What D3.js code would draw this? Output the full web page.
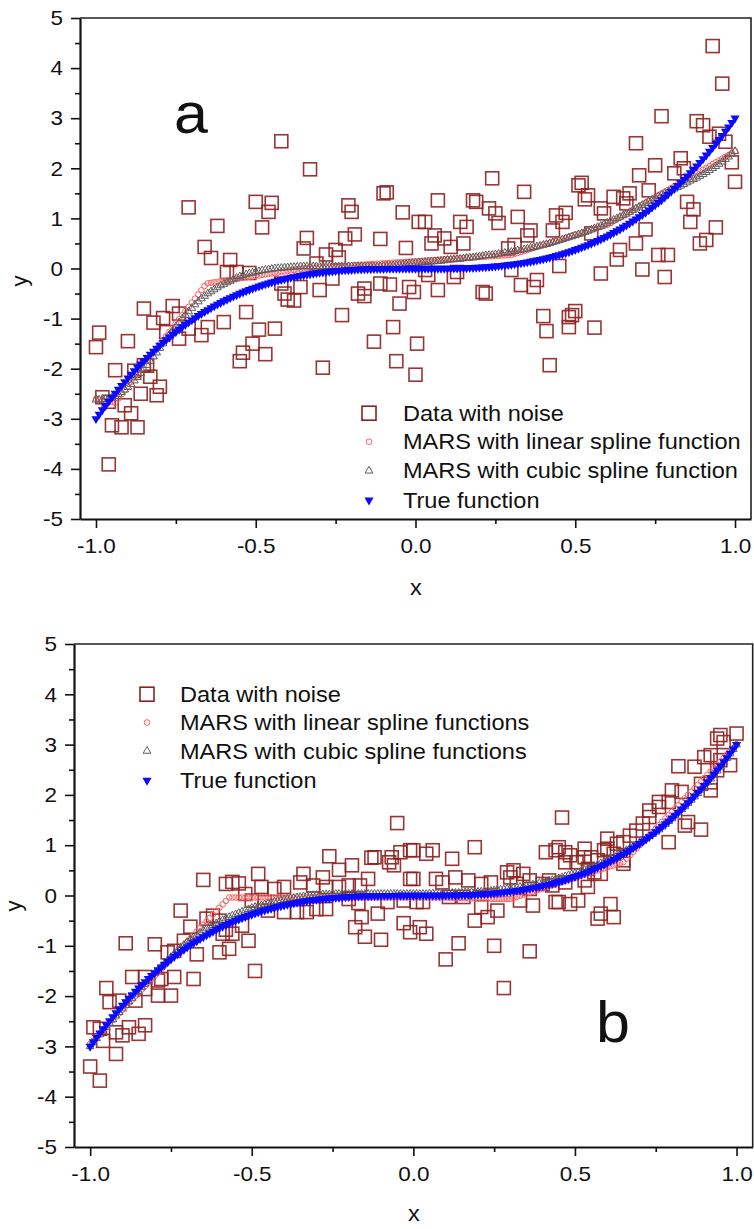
<!DOCTYPE html>
<html><head><meta charset="utf-8">
<script src="https://cdn.jsdelivr.net/npm/d3@7"></script>
<style>
body{margin:0;background:#fff}
svg{display:block}
text{font-family:"Liberation Sans",Arial,sans-serif;fill:#111}
</style>
</head><body>
<svg id="c" width="754" height="1229"></svg>
<script>
// ---------- data ----------
const xGrid = [
-1,-0.99,-0.98,-0.97,-0.96,-0.95,-0.94,-0.93,-0.92,-0.91,
-0.9,-0.89,-0.88,-0.87,-0.86,-0.85,-0.84,-0.83,-0.82,-0.81,
-0.8,-0.79,-0.78,-0.77,-0.76,-0.75,-0.74,-0.73,-0.72,-0.71,
-0.7,-0.69,-0.68,-0.67,-0.66,-0.65,-0.64,-0.63,-0.62,-0.61,
-0.6,-0.59,-0.58,-0.57,-0.56,-0.55,-0.54,-0.53,-0.52,-0.51,
-0.5,-0.49,-0.48,-0.47,-0.46,-0.45,-0.44,-0.43,-0.42,-0.41,
-0.4,-0.39,-0.38,-0.37,-0.36,-0.35,-0.34,-0.33,-0.32,-0.31,
-0.3,-0.29,-0.28,-0.27,-0.26,-0.25,-0.24,-0.23,-0.22,-0.21,
-0.2,-0.19,-0.18,-0.17,-0.16,-0.15,-0.14,-0.13,-0.12,-0.11,
-0.1,-0.09,-0.08,-0.07,-0.06,-0.05,-0.04,-0.03,-0.02,-0.01,
0,
0.01,0.02,0.03,0.04,0.05,0.06,0.07,0.08,0.09,0.1,
0.11,0.12,0.13,0.14,0.15,0.16,0.17,0.18,0.19,0.2,
0.21,0.22,0.23,0.24,0.25,0.26,0.27,0.28,0.29,0.3,
0.31,0.32,0.33,0.34,0.35,0.36,0.37,0.38,0.39,0.4,
0.41,0.42,0.43,0.44,0.45,0.46,0.47,0.48,0.49,0.5,
0.51,0.52,0.53,0.54,0.55,0.56,0.57,0.58,0.59,0.6,
0.61,0.62,0.63,0.64,0.65,0.66,0.67,0.68,0.69,0.7,
0.71,0.72,0.73,0.74,0.75,0.76,0.77,0.78,0.79,0.8,
0.81,0.82,0.83,0.84,0.85,0.86,0.87,0.88,0.89,0.9,
0.91,0.92,0.93,0.94,0.95,0.96,0.97,0.98,0.99,1];

const trueY = [
-3,-2.911,-2.824,-2.738,-2.654,-2.572,-2.492,-2.413,-2.336,-2.261,
-2.187,-2.115,-2.044,-1.976,-1.908,-1.842,-1.778,-1.715,-1.654,-1.594,
-1.536,-1.479,-1.424,-1.37,-1.317,-1.266,-1.216,-1.167,-1.12,-1.074,
-1.029,-0.986,-0.943,-0.902,-0.862,-0.824,-0.786,-0.75,-0.715,-0.681,
-0.648,-0.616,-0.585,-0.556,-0.527,-0.499,-0.472,-0.447,-0.422,-0.398,
-0.375,-0.353,-0.332,-0.311,-0.292,-0.273,-0.256,-0.239,-0.222,-0.207,
-0.192,-0.178,-0.165,-0.152,-0.14,-0.129,-0.118,-0.108,-0.098,-0.089,
-0.081,-0.073,-0.066,-0.059,-0.053,-0.047,-0.041,-0.037,-0.032,-0.028,
-0.024,-0.021,-0.017,-0.015,-0.012,-0.01,-0.008,-0.007,-0.005,-0.004,
-0.003,-0.002,-0.002,-0.001,-0.001,0,0,0,0,0,
0,
0,0,0,0,0,0.001,0.001,0.002,0.002,0.003,
0.004,0.005,0.007,0.008,0.01,0.012,0.015,0.017,0.021,0.024,
0.028,0.032,0.037,0.041,0.047,0.053,0.059,0.066,0.073,0.081,
0.089,0.098,0.108,0.118,0.129,0.14,0.152,0.165,0.178,0.192,
0.207,0.222,0.239,0.256,0.273,0.292,0.311,0.332,0.353,0.375,
0.398,0.422,0.447,0.472,0.499,0.527,0.556,0.585,0.616,0.648,
0.681,0.715,0.75,0.786,0.824,0.862,0.902,0.943,0.986,1.029,
1.074,1.12,1.167,1.216,1.266,1.317,1.37,1.424,1.479,1.536,
1.594,1.654,1.715,1.778,1.842,1.908,1.976,2.044,2.115,2.187,
2.261,2.336,2.413,2.492,2.572,2.654,2.738,2.824,2.911,3];

const linA = [
-2.6,-2.613,-2.627,-2.64,-2.653,-2.667,-2.68,-2.597,-2.514,-2.43,
-2.347,-2.264,-2.181,-2.097,-2.014,-1.931,-1.848,-1.765,-1.681,-1.598,
-1.515,-1.432,-1.349,-1.265,-1.182,-1.099,-1.016,-0.933,-0.849,-0.766,
-0.683,-0.6,-0.516,-0.433,-0.35,-0.296,-0.286,-0.276,-0.266,-0.256,
-0.247,-0.237,-0.227,-0.217,-0.207,-0.197,-0.187,-0.178,-0.168,-0.158,
-0.148,-0.138,-0.128,-0.118,-0.109,-0.099,-0.089,-0.079,-0.069,-0.059,
-0.049,-0.039,-0.03,-0.02,-0.01,0,0.004,0.008,0.012,0.017,
0.021,0.025,0.029,0.033,0.037,0.042,0.046,0.05,0.054,0.058,
0.062,0.066,0.071,0.075,0.079,0.083,0.087,0.091,0.095,0.1,
0.104,0.108,0.112,0.116,0.12,0.125,0.129,0.133,0.137,0.141,
0.145,
0.149,0.154,0.158,0.162,0.166,0.17,0.174,0.178,0.183,0.187,
0.191,0.195,0.199,0.203,0.208,0.212,0.216,0.22,0.224,0.228,
0.233,0.237,0.241,0.245,0.249,0.253,0.258,0.262,0.266,0.27,
0.29,0.31,0.33,0.35,0.37,0.39,0.41,0.43,0.45,0.47,
0.49,0.51,0.53,0.55,0.57,0.59,0.61,0.63,0.65,0.67,
0.69,0.71,0.73,0.75,0.77,0.79,0.81,0.83,0.85,0.87,
0.907,0.944,0.98,1.017,1.054,1.091,1.127,1.164,1.201,1.238,
1.274,1.311,1.348,1.385,1.421,1.458,1.495,1.532,1.568,1.605,
1.642,1.679,1.715,1.752,1.789,1.826,1.862,1.899,1.936,1.973,
2.009,2.046,2.083,2.12,2.156,2.193,2.23,2.267,2.303,2.34];

const cubA = [
-2.62,-2.62,-2.62,-2.61,-2.6,-2.58,-2.55,-2.51,-2.47,-2.42,
-2.37,-2.31,-2.24,-2.17,-2.09,-2.01,-1.93,-1.85,-1.76,-1.68,
-1.59,-1.5,-1.41,-1.32,-1.24,-1.16,-1.08,-1,-0.93,-0.86,
-0.79,-0.72,-0.66,-0.6,-0.55,-0.5,-0.46,-0.42,-0.38,-0.34,
-0.31,-0.28,-0.25,-0.22,-0.19,-0.16,-0.14,-0.12,-0.1,-0.085,
-0.07,-0.055,-0.04,-0.03,-0.02,-0.01,0,0.005,0.01,0.015,
0.02,0.025,0.03,0.035,0.04,0.04,0.04,0.04,0.04,0.04,
0.04,0.04,0.04,0.04,0.04,0.04,0.04,0.04,0.04,0.04,
0.04,0.04,0.04,0.04,0.04,0.04,0.04,0.04,0.04,0.04,
0.05,0.055,0.06,0.065,0.07,0.075,0.08,0.09,0.1,0.105,
0.11,
0.115,0.12,0.125,0.13,0.135,0.14,0.145,0.15,0.16,0.17,
0.175,0.18,0.185,0.19,0.2,0.21,0.215,0.22,0.23,0.24,
0.25,0.26,0.265,0.27,0.28,0.29,0.3,0.31,0.32,0.33,
0.345,0.36,0.37,0.38,0.395,0.41,0.425,0.44,0.455,0.47,
0.485,0.5,0.52,0.54,0.56,0.58,0.6,0.62,0.64,0.66,
0.68,0.7,0.725,0.75,0.775,0.8,0.825,0.85,0.88,0.91,
0.94,0.97,1,1.03,1.06,1.09,1.125,1.16,1.195,1.23,
1.265,1.3,1.335,1.37,1.405,1.44,1.47,1.5,1.53,1.56,
1.59,1.62,1.65,1.68,1.715,1.75,1.78,1.81,1.845,1.88,
1.92,1.96,2,2.04,2.085,2.13,2.18,2.23,2.285,2.34];

const linB = [
-2.95,-2.882,-2.815,-2.747,-2.679,-2.612,-2.544,-2.476,-2.409,-2.341,
-2.273,-2.206,-2.138,-2.07,-2.002,-1.935,-1.867,-1.799,-1.732,-1.664,
-1.596,-1.529,-1.461,-1.393,-1.326,-1.258,-1.19,-1.123,-1.055,-0.987,
-0.92,-0.852,-0.784,-0.717,-0.649,-0.581,-0.514,-0.446,-0.378,-0.311,
-0.243,-0.175,-0.108,-0.04,-0.04,-0.04,-0.04,-0.04,-0.04,-0.04,
-0.04,-0.04,-0.04,-0.04,-0.04,-0.04,-0.04,-0.04,-0.04,-0.04,
-0.04,-0.04,-0.04,-0.04,-0.04,-0.04,-0.04,-0.04,-0.04,-0.04,
-0.04,-0.04,-0.04,-0.04,-0.04,-0.04,-0.04,-0.04,-0.04,-0.04,
-0.04,-0.04,-0.04,-0.04,-0.04,-0.04,-0.04,-0.04,-0.04,-0.04,
-0.04,-0.04,-0.04,-0.04,-0.04,-0.04,-0.04,-0.04,-0.04,-0.04,
-0.04,
-0.04,-0.04,-0.04,-0.04,-0.04,-0.04,-0.04,-0.04,-0.04,-0.04,
-0.042,-0.045,-0.047,-0.05,-0.05,-0.05,-0.052,-0.055,-0.057,-0.06,
-0.06,-0.06,-0.062,-0.065,-0.067,-0.07,-0.07,-0.07,-0.07,-0.07,
-0.049,-0.028,-0.007,0.014,0.035,0.056,0.077,0.098,0.119,0.14,
0.161,0.182,0.203,0.224,0.245,0.266,0.287,0.308,0.329,0.35,
0.371,0.392,0.413,0.434,0.455,0.476,0.497,0.518,0.539,0.56,
0.581,0.602,0.623,0.644,0.665,0.732,0.799,0.865,0.932,0.999,
1.065,1.132,1.199,1.265,1.332,1.399,1.466,1.532,1.599,1.666,
1.732,1.799,1.866,1.932,1.999,2.066,2.132,2.199,2.266,2.332,
2.399,2.466,2.532,2.599,2.666,2.732,2.799,2.866,2.932,3];

const cubB = [
-3,-2.92,-2.84,-2.765,-2.69,-2.615,-2.54,-2.465,-2.39,-2.32,
-2.25,-2.18,-2.11,-2.04,-1.97,-1.9,-1.83,-1.76,-1.69,-1.62,
-1.55,-1.485,-1.42,-1.355,-1.29,-1.225,-1.16,-1.1,-1.04,-0.985,
-0.93,-0.88,-0.83,-0.785,-0.74,-0.7,-0.66,-0.625,-0.59,-0.555,
-0.52,-0.49,-0.46,-0.43,-0.4,-0.375,-0.35,-0.325,-0.3,-0.275,
-0.25,-0.23,-0.21,-0.195,-0.18,-0.16,-0.14,-0.125,-0.11,-0.095,
-0.08,-0.07,-0.06,-0.05,-0.04,-0.03,-0.02,-0.01,0,0.005,
0.01,0.015,0.02,0.02,0.02,0.025,0.03,0.03,0.03,0.03,
0.03,0.03,0.03,0.03,0.03,0.03,0.03,0.03,0.03,0.03,
0.03,0.03,0.03,0.03,0.03,0.03,0.03,0.03,0.03,0.03,
0.03,
0.03,0.03,0.03,0.03,0.035,0.04,0.04,0.04,0.04,0.04,
0.045,0.05,0.05,0.05,0.055,0.06,0.06,0.06,0.065,0.07,
0.075,0.08,0.085,0.09,0.1,0.11,0.115,0.12,0.13,0.14,
0.15,0.16,0.17,0.18,0.19,0.2,0.215,0.23,0.245,0.26,
0.275,0.29,0.305,0.32,0.34,0.36,0.38,0.4,0.42,0.44,
0.46,0.48,0.505,0.53,0.555,0.58,0.61,0.64,0.67,0.7,
0.73,0.76,0.795,0.83,0.865,0.9,0.935,0.97,1.01,1.05,
1.09,1.13,1.175,1.22,1.265,1.31,1.365,1.42,1.475,1.53,
1.59,1.65,1.71,1.77,1.835,1.9,1.965,2.03,2.1,2.17,
2.245,2.32,2.4,2.48,2.56,2.64,2.73,2.82,2.91,3];

const dataA = [
[-1.00,-1.57],[-0.99,-1.28],[-0.90,-1.45],[-0.94,-2.03],[-0.85,-0.80],[-0.82,-1.08],[-0.79,-0.99],[-0.76,-0.75],[-0.74,-0.90],[-0.78,-1.27],
[-0.74,-1.40],[-0.71,-1.20],[-0.67,-1.33],[-0.65,-1.17],[-0.60,-1.07],[-0.53,-0.87],[-0.49,-1.22],[-0.44,-1.20],[-0.51,-1.50],[-0.54,-1.68],
[-0.55,-1.85],[-0.47,-1.71],[-0.29,-1.98],[-0.23,-0.93],[-0.13,-1.46],[-0.88,-2.04],[-0.85,-1.93],[-0.84,-1.94],[-0.83,-2.16],[-0.80,-2.36],
[-0.86,-2.50],[-0.81,-2.53],[-0.98,-2.57],[-0.95,-3.13],[-0.92,-3.17],[-0.87,-3.17],[-0.89,-2.89],[-0.91,-2.73],[-0.96,-2.66],[-0.96,-3.91],
[-0.42,2.54],[-0.33,1.98],[-0.71,1.22],[-0.50,1.33],[-0.45,1.31],[-0.46,1.13],[-0.62,0.85],[-0.48,0.82],[-0.66,0.43],[-0.64,0.21],
[-0.58,0.17],[-0.59,-0.07],[-0.56,-0.07],[-0.52,-0.09],[-0.34,0.61],[-0.35,0.40],[-0.31,0.10],[-0.28,0.28],[-0.25,0.37],[-0.24,0.22],
[-0.22,0.60],[-0.19,0.68],[-0.21,1.26],[-0.20,1.13],[-0.11,0.59],[-0.10,1.50],[-0.09,1.52],[-0.04,1.12],[0.01,0.93],[-0.03,0.41],
[-0.42,-0.30],[-0.40,-0.62],[-0.38,-0.64],[-0.36,-0.37],[-0.30,-0.43],[-0.26,-0.20],[-0.41,-0.50],[-0.18,-0.50],[-0.16,-0.40],[-0.11,-0.30],
[-0.08,-0.32],[-0.16,-0.55],[-0.05,-0.70],[-0.02,-0.37],[-0.005,-0.47],[-0.07,-1.17],[0.005,-1.50],
[0.93,4.44],[0.96,3.69],[0.77,3.04],[0.88,2.94],[0.90,2.86],[0.95,2.69],[0.92,2.63],[0.97,2.53],[0.69,2.50],[0.99,2.12],
[1.00,1.73],[0.75,2.06],[0.70,1.86],[0.73,1.56],[0.83,2.20],[0.84,2.00],[0.81,1.90],[0.52,1.71],[0.51,1.66],[0.54,1.46],
[0.53,1.38],[0.62,1.43],[0.65,1.40],[0.67,1.50],[0.58,1.20],[0.66,1.30],[0.85,1.33],[0.87,1.18],[0.86,0.93],[0.94,0.82],
[0.89,0.50],[0.91,0.57],[0.72,0.78],[0.69,0.50],[0.64,0.37],[0.63,0.18],[0.76,0.27],[0.79,0.27],[0.71,-0.02],[0.78,-0.17],
[0.58,-0.10],[0.45,0.05],[0.24,1.80],[0.34,1.53],[0.07,1.36],[0.18,1.36],[0.19,1.33],[0.23,1.20],[0.25,1.10],[0.26,0.91],
[0.32,1.03],[0.44,1.06],[0.47,1.11],[0.46,0.93],[0.03,0.93],[0.06,0.66],[0.05,0.50],[0.09,0.60],[0.11,0.43],[0.14,0.93],
[0.16,0.83],[0.15,0.50],[0.36,0.76],[0.35,0.66],[0.43,0.76],[0.31,0.47],[0.29,0.40],[0.07,-0.43],[0.21,-0.47],[0.22,-0.50],
[0.33,-0.33],[0.38,-0.23],[0.37,-0.37],[0.03,-0.03],[0.04,-0.13],[0.13,-0.07],[0.12,-0.17],[0.59,1.10],[0.55,0.70],[0.40,-0.95],
[0.41,-1.25],[0.48,-0.97],[0.49,-0.93],[0.50,-0.85],[0.56,-1.18],[0.48,-1.17],[0.42,-1.93],[-0.06,-1.85],[0.00,-2.12],[0.30,-0.03]];

const dataB = [
[-1.00,-3.40],[-0.97,-3.68],[-0.99,-2.62],[-0.97,-2.65],[-0.92,-2.72],[-0.88,-2.62],[-0.85,-2.75],[-0.83,-2.58],[-0.90,-2.78],[-0.96,-2.89],
[-0.92,-3.15],[-0.95,-1.84],[-0.94,-2.12],[-0.91,-2.09],[-0.86,-2.09],[-0.83,-1.86],[-0.79,-1.99],[-0.75,-1.99],[-0.87,-1.62],[-0.83,-1.62],
[-0.79,-1.69],[-0.78,-1.66],[-0.74,-1.62],[-0.68,-1.66],[-0.89,-0.95],[-0.80,-0.97],[-0.76,-1.13],[-0.74,-1.10],[-0.71,-0.90],[-0.67,-1.17],
[-0.60,-1.13],[-0.57,-1.06],[-0.51,-0.90],[-0.49,-1.50],[-0.59,-0.76],[-0.56,-0.76],[-0.72,-0.30],[-0.69,-0.62],[-0.64,-0.46],[-0.62,-0.40],
[-0.60,-0.50],[-0.58,-0.68],[-0.53,-0.60],[-0.52,0.03],[-0.50,-0.10],[-0.45,-0.30],[-0.46,-0.13],[-0.40,-0.33],[-0.36,-0.33],[-0.33,-0.33],
[-0.30,-0.27],[-0.27,-0.27],[-0.23,0.17],[-0.20,-0.07],[-0.17,-0.15],[-0.11,-0.36],[-0.08,-0.13],[-0.03,-0.10],[-0.16,-0.43],[-0.18,-0.63],
[-0.15,-0.82],[-0.10,-0.88],[-0.03,-0.55],[-0.01,-0.73],
[-0.65,0.31],[-0.58,0.23],[-0.56,0.27],[-0.54,0.24],[-0.48,0.43],[-0.47,0.17],[-0.43,0.13],[-0.40,0.17],[-0.35,0.26],[-0.34,0.43],
[-0.31,0.20],[-0.28,0.36],[-0.27,0.17],[-0.26,0.78],[-0.23,0.51],[-0.19,0.60],[-0.20,0.20],[-0.165,0.20],[-0.14,0.33],[-0.12,0.76],
[-0.05,1.44],[-0.13,0.75],[-0.04,0.86],[-0.01,0.90],[-0.06,0.60],[-0.075,0.66],[-0.067,0.76],[-0.01,0.33],
[1.00,3.22],[0.95,3.19],[0.94,3.12],[0.96,3.05],[0.90,2.75],[0.92,2.79],[0.87,2.56],[0.95,2.69],[0.98,2.59],[0.94,2.49],
[0.82,2.57],[0.92,2.25],[0.89,2.22],[0.92,2.09],[0.80,2.09],[0.83,2.06],[0.79,1.86],[0.76,1.86],[0.76,1.76],[0.73,1.69],
[0.73,1.56],[0.71,1.43],[0.69,1.29],[0.67,1.19],[0.65,1.06],[0.85,1.46],[0.89,1.31],[0.84,1.39],[0.79,1.06],[0.60,1.13],
[0.63,1.03],[0.60,0.93],[0.62,0.83],[0.65,0.63],[0.57,0.70],[0.58,0.43],[0.54,0.53],[0.53,0.76],[0.46,1.55],[0.41,0.86],
[0.44,0.90],[0.485,0.80],[0.47,0.66],[0.505,0.66],[0.53,0.30],[0.54,0.17],[0.485,-0.17],[0.45,-0.13],[0.51,-0.10],[0.31,0.50],
[0.34,0.43],[0.36,0.30],[0.40,0.23],[0.42,0.30],[0.19,0.96],[0.12,0.73],[0.06,0.90],[0.04,0.83],[0.00,0.90],[0.45,0.96],
[0.47,0.86],[0.53,0.93],[0.55,0.76],[0.59,0.90],[0.65,0.70],[0.56,0.46],[0.43,0.20],[0.47,0.26],[0.00,0.33],[0.07,0.33],
[0.09,0.26],[0.13,0.36],[0.17,0.30],[0.21,0.23],[0.24,0.26],[0.29,0.46],[0.30,0.36],[0.32,0.23],[0.36,0.13],[0.01,-0.13],
[0.03,-0.13],[0.11,-0.03],[0.155,-0.03],[0.21,-0.23],[0.26,-0.30],[0.19,-0.50],[0.23,-0.43],[0.33,-0.10],[0.37,-0.20],[0.44,-0.13],
[0.57,-0.46],[0.61,-0.17],[0.62,-0.43],[0.58,-0.36],[0.02,-0.63],[0.04,-0.76],[0.14,-0.95],[0.25,-1.00],[0.10,-1.27],[0.36,-1.11],
[0.28,-1.84]];

const xTicks = [-1, -0.5, 0, 0.5, 1];
const xMinor = [-0.75, -0.25, 0.25, 0.75];
const yTicks = [-5,-4,-3,-2,-1,0,1,2,3,4,5];
const yMinor = [-4.5,-3.5,-2.5,-1.5,-0.5,0.5,1.5,2.5,3.5,4.5];
const legendA = ["Data with noise","MARS with linear spline function","MARS with cubic spline function","True function"];
const legendB = ["Data with noise","MARS with linear spline functions","MARS with cubic spline functions","True function"];

// ---------- drawing ----------
const svg = d3.select("#c");
const SX = 1.07;
function stretch(sel){
  sel.each(function(){
    const w = this.getComputedTextLength();
    this.setAttribute("textLength", (w*SX).toFixed(2));
    this.setAttribute("lengthAdjust","spacingAndGlyphs");
  });
}
const SQ = "#8e1f1f", RED = "#ff5f5f", GREY = "#5e5e5e", BLUE = "#0a0aff";
const triUp = d3.symbol(d3.symbolTriangle, 26)();
const triDn = d3.symbol(d3.symbolTriangle, 36)();

function panel(cfg){
  const x = d3.scaleLinear([-1.05, 1.05], [cfg.left, cfg.right]);
  const y = d3.scaleLinear([-5, 5], [cfg.bottom, cfg.top]);
  const g = svg.append("g");

  g.append("path")
    .attr("d", `M${cfg.left},${cfg.top}H${cfg.right}V${cfg.bottom}`)
    .attr("fill","none").attr("stroke","#222").attr("stroke-width",1.6);

  const yg = g.append("g").attr("transform",`translate(${cfg.left},0)`)
    .call(d3.axisLeft(y).tickValues(yTicks).tickSize(9).tickPadding(8).tickSizeOuter(0).tickFormat(d => String(d)));
  const ym = g.append("g").attr("transform",`translate(${cfg.left},0)`)
    .call(d3.axisLeft(y).tickValues(yMinor).tickSize(5).tickSizeOuter(0).tickFormat(""));
  ym.select(".domain").remove();
  const xg = g.append("g").attr("transform",`translate(0,${cfg.bottom})`)
    .call(d3.axisBottom(x).tickValues(xTicks).tickSize(9).tickPadding(cfg.xPad).tickSizeOuter(0).tickFormat(d => d.toFixed(1)));
  const xm = g.append("g").attr("transform",`translate(0,${cfg.bottom})`)
    .call(d3.axisBottom(x).tickValues(xMinor).tickSize(5).tickSizeOuter(0).tickFormat(""));
  xm.select(".domain").remove();

  [yg, ym, xg, xm].forEach(a => {
    a.attr("font-size", 21).attr("font-family", '"Liberation Sans",Arial,sans-serif');
    a.selectAll("line").attr("stroke","#111").attr("stroke-width",1.6);
    a.selectAll(".domain").attr("stroke","#111").attr("stroke-width",2.2);
    a.selectAll("text").attr("fill","#111");
  });
  stretch(yg.selectAll("text"));
  stretch(xg.selectAll("text"));

  const xt = g.append("text").attr("x", cfg.xTitle[0]).attr("y", cfg.xTitle[1])
    .attr("text-anchor","middle").attr("font-size",22).text("x");
  stretch(xt);
  g.append("text").attr("transform",`translate(${cfg.yTitle[0]},${cfg.yTitle[1]}) rotate(-90)`)
    .attr("text-anchor","middle").attr("font-size",22).text("y");

  const lt = g.append("text").attr("x", cfg.letterPos[0]).attr("y", cfg.letterPos[1])
    .attr("font-size", 57).text(cfg.letter);
  stretch(lt);

  // data with noise
  g.append("g").selectAll("rect").data(cfg.data).join("rect")
    .attr("x", d => x(d[0]) - 6.5).attr("y", d => y(d[1]) - 6.5)
    .attr("width", 13).attr("height", 13)
    .attr("fill","none").attr("stroke", SQ).attr("stroke-width",1.6).attr("stroke-opacity",0.9);

  const pts = arr => xGrid.map((xv,i) => [xv, arr[i]]);
  g.append("g").selectAll("circle").data(pts(cfg.lin)).join("circle")
    .attr("cx", d => x(d[0])).attr("cy", d => y(d[1])).attr("r", 2.8)
    .attr("fill","none").attr("stroke", RED).attr("stroke-width",1);
  g.append("g").selectAll("path").data(pts(cfg.cub)).join("path")
    .attr("d", triUp).attr("transform", d => `translate(${x(d[0])},${y(d[1])})`)
    .attr("fill","none").attr("stroke", GREY).attr("stroke-width",1);
  g.append("g").selectAll("path").data(pts(trueY)).join("path")
    .attr("d", triDn).attr("transform", d => `translate(${x(d[0])},${y(d[1])}) rotate(180)`)
    .attr("fill", BLUE);

  const L = g.append("g");
  cfg.legend.forEach((t,i) => {
    const by = cfg.legBase[i], sy = by - 7.5, sx = cfg.legSym;
    if (i === 0) L.append("rect").attr("x", sx-7).attr("y", sy-7).attr("width",14).attr("height",14)
      .attr("fill","none").attr("stroke",SQ).attr("stroke-width",1.6);
    if (i === 1) L.append("circle").attr("cx", sx).attr("cy", sy).attr("r",2.8)
      .attr("fill","none").attr("stroke",RED).attr("stroke-width",1);
    if (i === 2) L.append("path").attr("d", triUp).attr("transform",`translate(${sx},${sy})`)
      .attr("fill","none").attr("stroke",GREY).attr("stroke-width",1);
    if (i === 3) L.append("path").attr("d", triDn).attr("transform",`translate(${sx},${sy}) rotate(180)`)
      .attr("fill",BLUE);
    const tx = L.append("text").attr("x", cfg.legText).attr("y", by).attr("font-size",22).text(t);
    stretch(tx);
  });
}

panel({left:80, right:751, top:18, bottom:519, xPad:10,
  data:dataA, lin:linA, cub:cubA, legend:legendA,
  legSym:369, legText:403, legBase:[420.7,449.2,478.3,507.7],
  letter:"a", letterPos:[174,133], xTitle:[416,595], yTitle:[27,281]});

panel({left:74, right:752.7, top:644, bottom:1147, xPad:10,
  data:dataB, lin:linB, cub:cubB, legend:legendB,
  legSym:147, legText:180, legBase:[701.7,730,758.5,788],
  letter:"b", letterPos:[596,1042], xTitle:[414,1221], yTitle:[21,906]});
</script>
</body></html>
